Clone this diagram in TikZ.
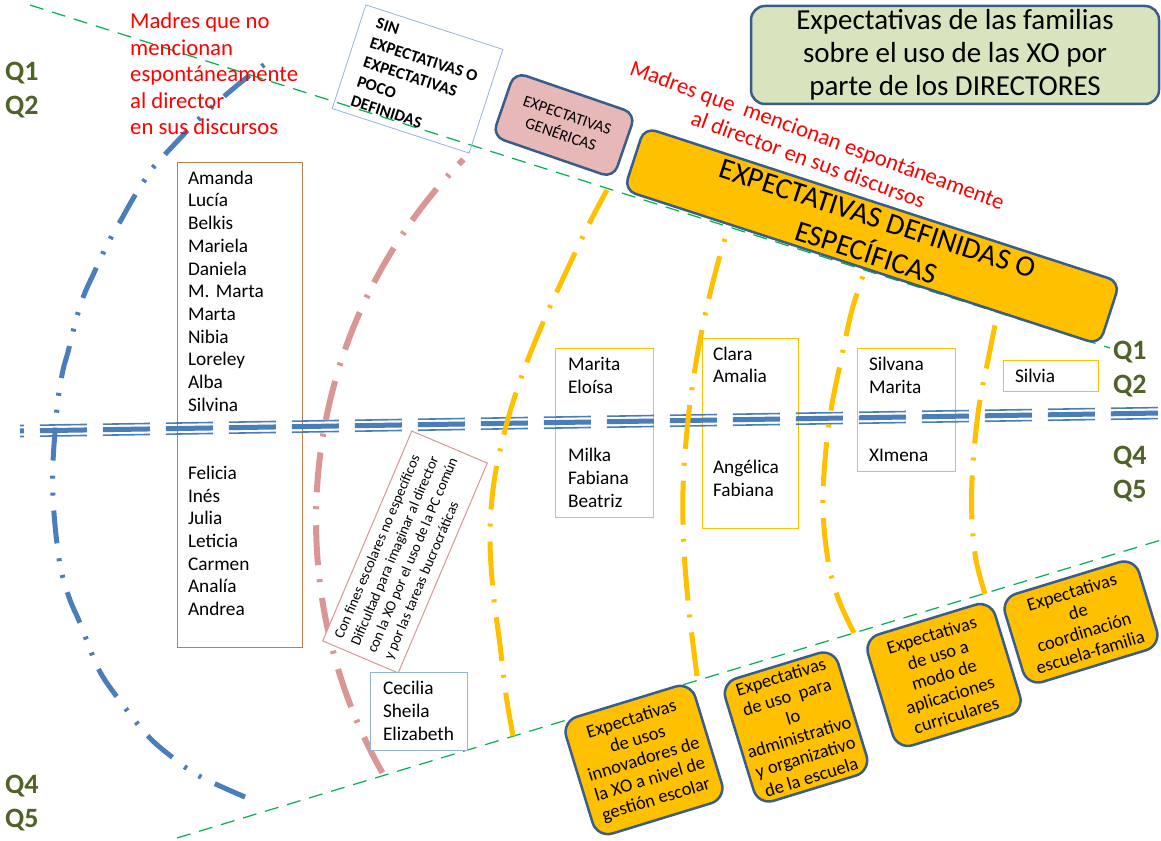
\documentclass[tikz,border=0pt]{standalone}
\usepackage{fontspec}
\setmainfont{Carlito}
\usetikzlibrary{positioning}
\hyphenpenalty=10000
\exhyphenpenalty=10000

\definecolor{qgreen}{HTML}{4F6228}
\definecolor{xoblue}{HTML}{4A7EBB}
\definecolor{rosearc}{HTML}{D99694}
\definecolor{xoorange}{HTML}{FFC000}
\definecolor{darkframe}{HTML}{385D8A}
\definecolor{titlegreen}{HTML}{D7E4BD}
\definecolor{genpink}{HTML}{E6B9B8}
\definecolor{namebrown}{HTML}{C0804D}
\definecolor{lightframe}{HTML}{95B3D7}
\definecolor{guidegreen}{HTML}{00B050}

\begin{document}
\begin{tikzpicture}[x=1pt, y=-1pt,
            name box/.style={draw, line width=1pt, align=left, inner ysep=0pt, font=\fontsize{19.3}{22.7}\selectfont},
            expect box/.style={draw=darkframe, line width=2.5pt, fill=xoorange, rounded corners=16pt, rotate=17, align=center, inner sep=2pt, font=\fontsize{18.5}{21}\selectfont},
            q label/.style={text=qgreen, align=left, inner sep=0pt, anchor=west, font=\fontsize{28}{34}\selectfont\bfseries},
            guide/.style={guidegreen, line width=1.2pt, dash pattern=on 14pt off 9pt},
            divider/.style={xoblue, dash pattern=on 47pt off 16pt, dash phase=43pt},
            arc blue/.style={xoblue, line width=5pt, dash pattern=on 33pt off 15pt on 3pt off 14pt on 3pt off 15pt},
            arc rose/.style={rosearc, line width=6pt, dash pattern=on 40pt off 16pt on 3pt off 14pt},
            arc xo/.style={xoorange, line width=5pt, dash pattern=on 44pt off 15pt on 3pt off 14pt}]

            \useasboundingbox (0,0) rectangle (1161,840);

            % Green guide lines
            \draw[guide] (30,5) -- (1110,348);
            \draw[guide] (177,838) -- (1161,540);

            % Name lists
            \node[name box, draw=namebrown, inner xsep=11pt, text width=103pt, minimum height=485pt] (nolist) at (239.5,404.5)
                {Amanda\\Lucía\\Belkis\\Mariela\\Daniela\\M. Marta\\Marta\\Nibia\\Loreley\\Alba\\Silvina\\[45.4pt]Felicia\\Inés\\Julia\\Leticia\\Carmen\\Analía\\Andrea\\\mbox{}};
            \node[name box, draw=xoorange, inner xsep=13pt, text width=72pt, minimum height=169pt] (listone) at (604,432.5)
                {Marita\\Eloísa\\[45.4pt]Milka\\Fabiana\\Beatriz};
            \node[name box, draw=xoorange, inner xsep=11pt, text width=74pt, minimum height=190pt] (listtwo) at (750,433)
                {Clara\\Amalia\\[68.1pt]Angélica\\Fabiana\\\mbox{}};
            \node[name box, draw=xoorange, inner xsep=12pt, text width=74pt, minimum height=123pt] (listthree) at (906,409.5)
                {Silvana\\Marita\\[45.4pt]XImena};
            \node[name box, draw=xoorange, inner xsep=12pt, text width=71pt, minimum height=31pt] (listfour) at (1050.5,375.5) {Silvia};

            % Q1 Q2 / Q4 Q5 divider
            \foreach \dy/\lw in {-5.5/1.6, 0/5, 5.5/1.6}
                \draw[divider, line width=\lw pt] (20,{431+\dy}) -- (1161,{413+\dy});

            % Arcs
            \draw[arc blue] plot[smooth, tension=0.55] coordinates {(245,797) (199,776) (172,757) (147,735) (117,697) (98,668) (80,623) (70,600) (61,570) (56,535) (53,497) (53,463) (55,432) (58,399) (63,370) (68,352) (76,320) (84,295) (93,275) (107,245) (121,220) (134,197) (148,175) (158,162) (200,118) (240,83) (268,62)};
            \draw[arc rose] plot[domain=0:1, samples=80, variable=\t] ({831+515*cos(150.6+73.9*\t)}, {520+515*sin(150.6+73.9*\t)});
            \draw[arc xo] plot[smooth, tension=0.6] coordinates {(513,736) (506,695) (500,645) (493,590) (490,535) (494,482) (505,430) (521,378) (542,325) (566,272) (590,222) (607,190)};
            \draw[arc xo] plot[smooth, tension=0.6] coordinates {(697,676) (689,610) (684,550) (683,490) (687,430) (694,375) (704,320) (716,270) (728,228)};
            \draw[arc xo] plot[smooth, tension=0.6] coordinates {(854,633) (838,598) (828,560) (823,510) (825,460) (831,410) (841,360) (852,310) (865,270)};
            \draw[arc xo] plot[smooth, tension=0.6] coordinates {(985,594) (976,560) (972,520) (972,480) (975,440) (980,400) (988,360) (997,315)};

            % Title
            \node[draw=darkframe, line width=2.5pt, fill=titlegreen, rounded corners=14pt, minimum width=408pt, minimum height=98pt, align=center, font=\fontsize{29}{33}\selectfont] (title) at (955,55)
                {Expectativas de las familias\\sobre el uso de las XO por\\parte de los DIRECTORES};

            % Red annotations
            \node[red, anchor=north west, inner sep=0pt, align=left, font=\fontsize{22.7}{26.5}\selectfont] (nomention) at (130,13)
                {Madres que no\\mencionan\\espontáneamente\\al director\\en sus discursos};
            \node[red, rotate=-20, align=center, font=\fontsize{22.7}{26}\selectfont] (mention) at (813,147)
                {Madres que\ \ mencionan espontáneamente\\al director en sus discursos};

            % Top categories
            \node[draw=lightframe, line width=0.8pt, rotate=-18, minimum width=144pt, minimum height=109pt, align=left, font=\fontsize{16.5}{20.5}\selectfont\bfseries] (noexpect) at (417.5,79)
                {SIN\\EXPECTATIVAS O\\EXPECTATIVAS\\POCO\\DEFINIDAS};
            \node[draw=darkframe, line width=2.5pt, fill=genpink, rounded corners=12pt, rotate=-19, minimum width=128pt, minimum height=68pt, align=center, font=\fontsize{16}{20}\selectfont] (generic) at (564,125)
                {EXPECTATIVAS\\GENÉRICAS};
            \node[draw=darkframe, line width=2.5pt, fill=xoorange, rounded corners=12pt, rotate=-18, minimum width=500pt, minimum height=66pt, inner sep=0pt, align=center, font=\fontsize{29.5}{36}\selectfont] (defined) at (872,236)
                {EXPECTATIVAS DEFINIDAS O\\ESPECÍFICAS};

            % Comment box and list under the rose arc
            \node[draw=rosearc, fill=white, line width=1pt, rotate=67, minimum width=228pt, minimum height=82pt, align=left, font=\fontsize{14.5}{18}\selectfont] (difficulty) at (405,552)
                {Con fines escolares no específicos\\Dificultad para imaginar al director\\con la XO por el uso de la PC común\\y por las tareas bucrocráticas};
            \node[name box, draw=lightframe, fill=white, inner xsep=13pt, text width=71pt, minimum height=78pt] (listrose) at (418.5,711)
                {Cecilia\\Sheila\\Elizabeth};

            % Specific expectations
            \node[expect box, minimum width=135pt, minimum height=122pt] (management) at (644,760)
                {Expectativas\\de usos\\innovadores de\\la XO a nivel de\\gestión escolar};
            \node[expect box, minimum width=118pt, minimum height=128pt] (admin) at (796,727)
                {Expectativas\\de uso\ \ para\\lo\\administrativo\\y organizativo\\de la escuela};
            \node[expect box, minimum width=133pt, minimum height=116pt] (curricular) at (944,675)
                {Expectativas\\de uso a\\modo de\\aplicaciones\\curriculares};
            \node[expect box, minimum width=140pt, minimum height=92pt] (coordination) at (1081,622)
                {Expectativas\\de\\coordinación\\escuela-familia};

            % Quintile labels
            \node[q label] (qtopleft) at (5,90) {Q1\\Q2};
            \node[q label] (qtopright) at (1113,369.5) {Q1\\Q2};
            \node[q label] (qlowright) at (1113,474.5) {Q4\\Q5};
            \node[q label] (qlowleft) at (5,803) {Q4\\Q5};
        \end{tikzpicture}
\end{document}
